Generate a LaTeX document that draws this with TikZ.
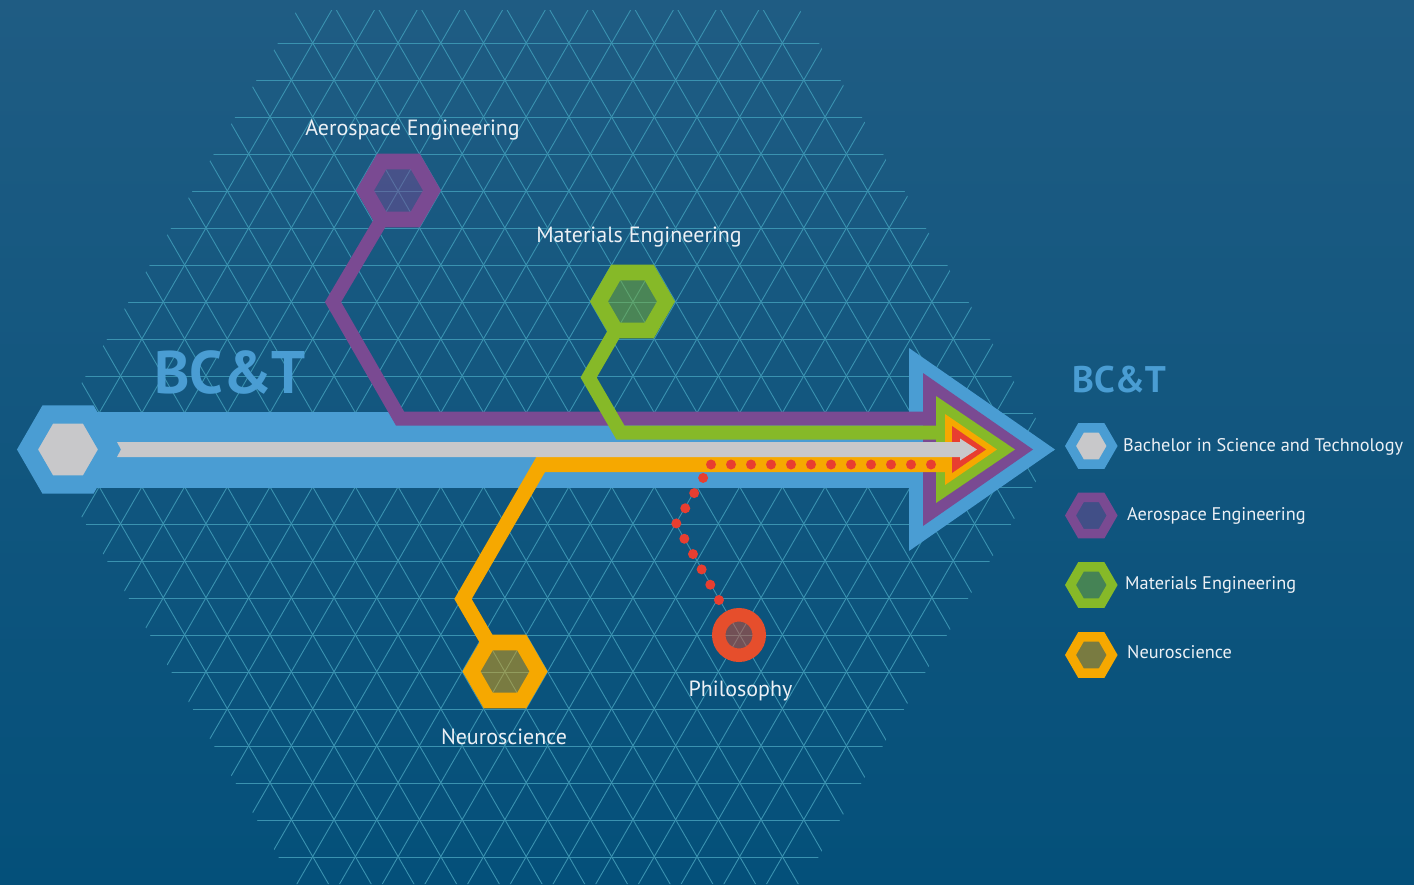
\documentclass[tikz,border=0pt]{standalone}
\usepackage{fontspec}
\setmainfont{PT Sans}
\usetikzlibrary{shapes.geometric}
\pgfdeclarelayer{bg}
\pgfdeclarelayer{lanes}
\pgfsetlayers{bg,lanes,main}
\definecolor{bgTop}{RGB}{31,92,131}
\definecolor{bgBot}{RGB}{4,80,122}
\definecolor{gridC}{RGB}{58,146,176}
\definecolor{bctBlue}{RGB}{74,157,211}
\definecolor{aeroPurple}{RGB}{122,74,146}
\definecolor{matGreen}{RGB}{134,185,40}
\definecolor{neuroOrange}{RGB}{246,168,0}
\definecolor{philRed}{RGB}{230,78,44}
\definecolor{dotRed}{RGB}{232,62,48}
\definecolor{barGrey}{RGB}{200,200,202}
\definecolor{lblWhite}{RGB}{236,240,245}
\begin{document}
\begin{tikzpicture}[x=1pt,y=1pt,yscale=-1,
  gridline/.style={draw=gridC,line width=0.9},
  lane/.style={draw=#1,line width=14,line join=miter},
  hexring/.style={regular polygon,regular polygon sides=6,inner sep=0pt,outer sep=0pt,minimum size=67,line width=15.6,draw=#1,fill=#1,fill opacity=.47},
  keyhex/.style={hexring=#1,minimum size=41.6,line width=9.5},
  philnode/.style={circle,inner sep=0pt,minimum size=40.5,line width=13.5,draw=philRed,fill=philRed,fill opacity=.47},
  dots/.style={draw=dotRed,line width=10,line cap=round,dash pattern=on 0pt off 20pt},
  lbl/.style={text=lblWhite,font=\fontsize{22}{26}\selectfont,anchor=base,inner sep=0pt},
  keylbl/.style={lbl,anchor=base west,font=\fontsize{18.3}{22}\selectfont},
  bigtitle/.style={text=bctBlue,font=\fontsize{60}{64}\selectfont\bfseries,anchor=base,inner sep=0pt},
  keytitle/.style={bigtitle,anchor=base west,font=\fontsize{37}{40}\selectfont\bfseries}]
\useasboundingbox (0,0) rectangle (1414,884);

%Shape: Hexagon
\node[hexring=bctBlue,minimum size=81,line width=18.2,fill=barGrey,fill opacity=1] (bsc) at (68,449.5) {};
%Shape: Hexagon
\node[hexring=aeroPurple] (aero) at (398.5,190.5) {};
%Shape: Hexagon
\node[hexring=matGreen] (mat) at (632.5,301.5) {};
%Shape: Hexagon
\node[hexring=neuroOrange] (neuro) at (505,671.5) {};
%Shape: Circle
\node[philnode] (phil) at (739,635) {};

\coordinate (bandEnd) at (915,449.5);
\coordinate (aeroKnee) at (333,302);
\coordinate (aeroFoot) at (400,418.5);
\coordinate (aeroEnd) at (930,418.5);
\coordinate (matKnee) at (588.6,377.5);
\coordinate (matFoot) at (620.4,432.5);
\coordinate (matEnd) at (942,432.5);
\coordinate (neuroKnee) at (463,599);
\coordinate (neuroFoot) at (540.7,464.5);
\coordinate (neuroEnd) at (950,464.5);
\coordinate (philKnee) at (676,524);
\coordinate (dotStart) at (711,464.5);
\coordinate (dotEnd) at (951,464.5);

\begin{pgfonlayer}{bg}
\shade[top color=bgTop,bottom color=bgBot] (0,0) rectangle (1414,884);
\begin{scope}
\clip (297,10) -- (800,10) -- (1054,450) -- (803,884) -- (294,884) -- (43,450) -- cycle;
\foreach \k in {0,...,22}
  \draw[gridline] (0,43+37*\k) -- (1414,43+37*\k);
\foreach \m in {-20,...,30} {
  \draw[gridline] (312.7+42.7*\m-520,943.7) -- (312.7+42.7*\m+520,-857.7);
  \draw[gridline] (312.7+42.7*\m+520,943.7) -- (312.7+42.7*\m-520,-857.7);
}
\end{scope}
\end{pgfonlayer}

\begin{pgfonlayer}{lanes}
%Straight Lines
\draw[bctBlue,line width=76] (bsc.center) -- (bandEnd);
\fill[bctBlue] (909,348) -- (1055,449.5) -- (909,551) -- cycle;
%Straight Lines
\draw[lane=aeroPurple] (aero.240) -- (aeroKnee) -- (aeroFoot) -- (aeroEnd);
\fill[aeroPurple] (923,373) -- (1033,449.5) -- (923,526) -- cycle;
%Straight Lines
\draw[lane=matGreen] (mat.240) -- (matKnee) -- (matFoot) -- (matEnd);
\fill[matGreen] (936,396) -- (1015,449.5) -- (936,503) -- cycle;
%Straight Lines
\draw[lane=neuroOrange,line width=15] (neuro.120) -- (neuroKnee) -- (neuroFoot) -- (neuroEnd);
\fill[neuroOrange] (945,414) -- (997,449.5) -- (945,485) -- cycle;
\fill[dotRed] (952,426) -- (986,449.5) -- (952,473) -- cycle;
%Dotted Lines
\draw[dots,dash pattern=on 0pt off 17.6pt,dash phase=4.3pt] (phil.120) -- (philKnee) -- (dotStart);
\draw[dots] (dotStart) -- (dotEnd);
%Shape: Arrow
\fill[barGrey] (117,442) -- (960,442) -- (960,438.5) -- (977,449.5) -- (960,460.5) -- (960,457) -- (117,457) -- (121,449.5) -- cycle;
\end{pgfonlayer}

% Text Node
\node[bigtitle] (bctTitle) at (230,393) {BC\&T};
% Text Node
\node[lbl] (aeroLbl) at (412.5,135.5) {Aerospace Engineering};
% Text Node
\node[lbl] (matLbl) at (639,242) {Materials Engineering};
% Text Node
\node[lbl] (neuroLbl) at (504,744) {Neuroscience};
% Text Node
\node[lbl] (philLbl) at (740.5,696) {Philosophy};

%Legend
\node[keytitle] (keyTitle) at (1072,392) {BC\&T};
\node[keyhex=bctBlue,fill=barGrey,fill opacity=1] (keyBsc) at (1091.3,446) {};
\node[keyhex=aeroPurple] (keyAero) at (1091.3,515.5) {};
\node[keyhex=matGreen] (keyMat) at (1091.3,585) {};
\node[keyhex=neuroOrange] (keyNeuro) at (1091.3,655) {};
% Text Node
\node[keylbl] (keyBscLbl) at (1123,451) {Bachelor in Science and Technology};
% Text Node
\node[keylbl] (keyAeroLbl) at (1127,520.7) {Aerospace Engineering};
% Text Node
\node[keylbl] (keyMatLbl) at (1125,589) {Materials Engineering};
% Text Node
\node[keylbl] (keyNeuroLbl) at (1127,658) {Neuroscience};

\end{tikzpicture}
\end{document}
